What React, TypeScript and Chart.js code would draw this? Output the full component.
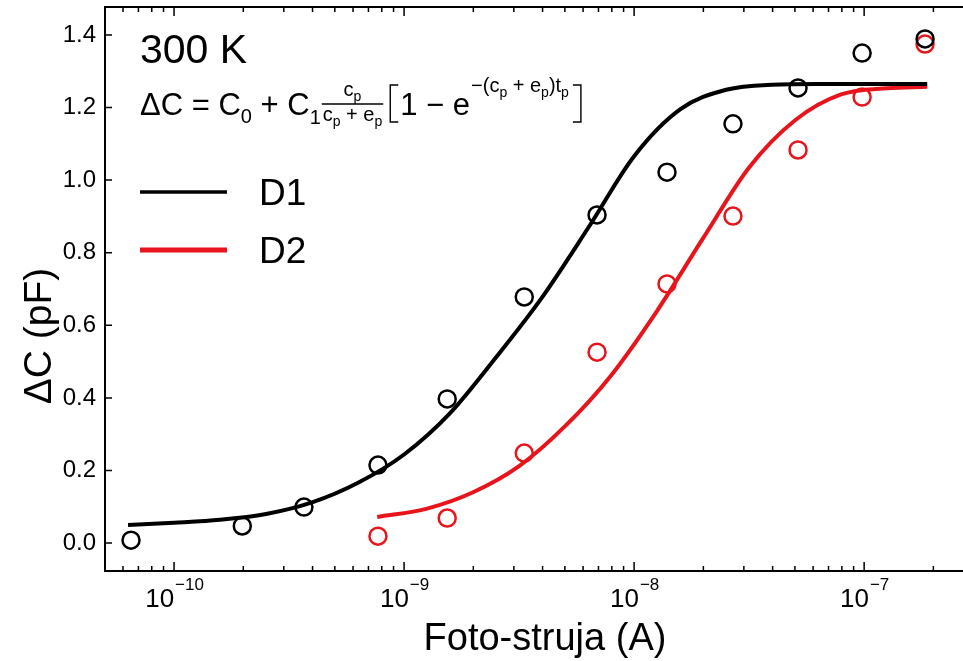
import React, { useEffect, useRef } from 'react';
import { Chart, registerables } from 'chart.js';

Chart.register(...registerables);

// ---- data ----
const d1X = [6.5e-11, 1.98e-10, 3.67e-10, 7.7e-10, 1.54e-9, 3.33e-9, 6.9e-9, 1.39e-8, 2.69e-8, 5.16e-8, 9.8e-8, 1.84e-7];
const d1Y = [0.008, 0.047, 0.099, 0.215, 0.397, 0.678, 0.904, 1.022, 1.155, 1.254, 1.35, 1.389];
const d2X = [7.7e-10, 1.54e-9, 3.33e-9, 6.9e-9, 1.39e-8, 2.69e-8, 5.16e-8, 9.8e-8, 1.84e-7];
const d2Y = [0.019, 0.069, 0.248, 0.526, 0.714, 0.901, 1.083, 1.229, 1.375];

const fit1X = [6.31e-11, 1.0e-10, 1.585e-10, 2.512e-10, 3.981e-10, 6.31e-10, 1.0e-9, 1.585e-9, 2.512e-9, 3.981e-9, 6.31e-9, 1.0e-8, 1.585e-8, 2.512e-8, 3.981e-8, 6.31e-8, 1.88e-7];
const fit1Y = [0.05, 0.056, 0.064, 0.08, 0.112, 0.166, 0.244, 0.358, 0.512, 0.677, 0.868, 1.066, 1.195, 1.249, 1.263, 1.265, 1.265];
const fit2X = [7.64e-10, 1.259e-9, 1.995e-9, 3.162e-9, 5.012e-9, 7.943e-9, 1.259e-8, 1.995e-8, 3.162e-8, 5.012e-8, 7.943e-8, 1.259e-7, 1.88e-7];
const fit2Y = [0.072, 0.095, 0.14, 0.212, 0.322, 0.462, 0.64, 0.84, 1.035, 1.165, 1.236, 1.253, 1.257];

const yTicks = [0, 0.2, 0.4, 0.6, 0.8, 1.0, 1.2, 1.4];
const xMajor = [1e-10, 1e-9, 1e-8, 1e-7];
const xMajorExp = ['\u221210', '\u22129', '\u22128', '\u22127'];
const xMinorMult = [2, 3, 4, 5, 6, 7, 8, 9];

const seriesNames = ['D1', 'D2'];
const tempLabel = '300 K';
const xTitle = 'Foto-struja (A)';
const yTitle = '\u0394C (pF)';

const X_MIN = 5.01e-11;
const X_MAX = 2.69e-7;
const Y_MIN = -0.077;
const Y_MAX = 1.477;

const BLACK = '#000000';
const RED = '#e8141c';
const FONT = "'Liberation Sans', Arial, sans-serif";

const pts = (xs: number[], ys: number[]) => xs.map((x, i) => ({ x, y: ys[i] }));

function buildXTicks() {
  const out: { value: number; major: boolean }[] = [];
  for (const m of [1e-11, ...xMajor]) {
    if (m >= X_MIN && m <= X_MAX) out.push({ value: m, major: true });
    for (const k of xMinorMult) {
      const v = m * k;
      if (v >= X_MIN && v <= X_MAX) out.push({ value: v, major: false });
    }
  }
  return out.sort((a, b) => a.value - b.value);
}

const decorPlugin = {
  id: 'decor',
  afterDraw(chart: any) {
    const ctx = chart.ctx as CanvasRenderingContext2D;
    const { left, right, top, bottom } = chart.chartArea;
    const xs = chart.scales.x;
    const ys = chart.scales.y;
    ctx.save();
    ctx.strokeStyle = BLACK;
    ctx.fillStyle = BLACK;

    // frame lines
    ctx.lineWidth = 2;
    ctx.beginPath();
    ctx.moveTo(left, top);
    ctx.lineTo(right, top);
    ctx.moveTo(left, top - 1);
    ctx.lineTo(left, bottom + 1);
    ctx.moveTo(left - 1, bottom);
    ctx.lineTo(right, bottom);
    ctx.stroke();

    // x ticks (bottom and top, inward)
    ctx.lineWidth = 1.5;
    ctx.beginPath();
    for (const t of xs.ticks) {
      const px = xs.getPixelForValue(t.value);
      if (px < left || px > right) continue;
      const len = t.major ? 9 : 5;
      ctx.moveTo(px, bottom);
      ctx.lineTo(px, bottom - len);
      ctx.moveTo(px, top);
      ctx.lineTo(px, top + len);
    }
    // y ticks inward
    for (const t of ys.ticks) {
      const py = ys.getPixelForValue(t.value);
      ctx.moveTo(left, py);
      ctx.lineTo(left + 7, py);
    }
    ctx.stroke();

    // x tick labels 10^n
    ctx.textBaseline = 'alphabetic';
    xMajor.forEach((v, i) => {
      const px = xs.getPixelForValue(v);
      ctx.font = `26px ${FONT}`;
      const w1 = ctx.measureText('10').width;
      ctx.font = `17px ${FONT}`;
      const w2 = ctx.measureText(xMajorExp[i]).width;
      const x0 = px - (w1 + w2) / 2;
      ctx.font = `26px ${FONT}`;
      ctx.textAlign = 'left';
      ctx.fillText('10', x0, bottom + 36);
      ctx.font = `17px ${FONT}`;
      ctx.fillText(xMajorExp[i], x0 + w1 + 1, bottom + 19);
    });

    // axis titles
    ctx.font = `38px ${FONT}`;
    ctx.textAlign = 'center';
    ctx.textBaseline = 'alphabetic';
    ctx.fillText(xTitle, 545, 650);
    ctx.save();
    ctx.translate(51, 336);
    ctx.rotate(-Math.PI / 2);
    ctx.font = `39px ${FONT}`;
    ctx.fillText(yTitle, 0, 0);
    ctx.restore();

    // 300 K
    ctx.textAlign = 'left';
    ctx.font = `41px ${FONT}`;
    ctx.fillText(tempLabel, 140, 63);

    // formula
    const F = 31, S = 20, SS = 14;
    const base = 115;
    let cx = 140;
    const put = (t: string, size: number, y: number) => {
      ctx.font = `${size}px ${FONT}`;
      ctx.fillText(t, cx, y);
      const w = ctx.measureText(t).width;
      cx += w;
      return w;
    };
    const meas = (t: string, size: number) => {
      ctx.font = `${size}px ${FONT}`;
      return ctx.measureText(t).width;
    };
    put('\u0394C = C', F, base);
    put('0', S, base + 8);
    put(' + C', F, base);
    put('1', S, base + 9);
    cx += 1;
    // fraction
    const denW = meas('c', S) + meas('p', SS) + meas(' + ', S) + meas('e', S) + meas('p', SS);
    const numW = meas('c', S) + meas('p', SS);
    const fx = cx;
    const lineY = 104;
    ctx.lineWidth = 1.3;
    ctx.beginPath();
    ctx.moveTo(fx, lineY);
    ctx.lineTo(fx + denW + 2, lineY);
    ctx.stroke();
    cx = fx + 1 + (denW - numW) / 2;
    put('c', S, lineY - 8);
    put('p', SS, lineY - 3);
    cx = fx + 1;
    put('c', S, lineY + 17);
    put('p', SS, lineY + 22);
    put(' + ', S, lineY + 17);
    put('e', S, lineY + 17);
    put('p', SS, lineY + 22);
    cx = fx + denW + 9;
    // left bracket
    ctx.lineWidth = 1.4;
    ctx.beginPath();
    ctx.moveTo(cx + 8, 85);
    ctx.lineTo(cx, 85);
    ctx.lineTo(cx, 122);
    ctx.lineTo(cx + 8, 122);
    ctx.stroke();
    cx += 10;
    put('1 \u2212 e', F, base);
    cx += 1;
    const sb = 92;
    put('\u2212(c', S, sb);
    put('p', SS, sb + 5);
    put(' + e', S, sb);
    put('p', SS, sb + 5);
    put(')t', S, sb);
    put('p', SS, sb + 5);
    cx += 4;
    ctx.beginPath();
    ctx.moveTo(cx, 85);
    ctx.lineTo(cx + 8, 85);
    ctx.lineTo(cx + 8, 122);
    ctx.lineTo(cx, 122);
    ctx.stroke();

    // legend
    ctx.lineCap = 'butt';
    ctx.lineWidth = 3.5;
    ctx.strokeStyle = BLACK;
    ctx.beginPath();
    ctx.moveTo(140, 192);
    ctx.lineTo(227, 192);
    ctx.stroke();
    ctx.lineWidth = 5;
    ctx.strokeStyle = RED;
    ctx.beginPath();
    ctx.moveTo(140, 250);
    ctx.lineTo(227, 250);
    ctx.stroke();
    ctx.fillStyle = BLACK;
    ctx.font = `37px ${FONT}`;
    ctx.fillText(seriesNames[0], 259, 205);
    ctx.fillText(seriesNames[1], 259, 263);

    ctx.restore();
  },
};

export default function App() {
  const ref = useRef<HTMLCanvasElement | null>(null);

  useEffect(() => {
    if (!ref.current) return;
    const chart = new Chart(ref.current, {
      type: 'scatter',
      data: {
        datasets: [
          {
            label: seriesNames[0] + ' fit',
            data: pts(fit1X, fit1Y),
            showLine: true,
            borderColor: BLACK,
            borderWidth: 4,
            pointRadius: 0,
            cubicInterpolationMode: 'monotone',
          } as any,
          {
            label: seriesNames[0],
            data: pts(d1X, d1Y),
            showLine: false,
            pointRadius: 8.5,
            pointBorderWidth: 2.5,
            pointBorderColor: BLACK,
            pointBackgroundColor: 'rgba(0,0,0,0)',
          },
          {
            label: seriesNames[1] + ' fit',
            data: pts(fit2X, fit2Y),
            showLine: true,
            borderColor: RED,
            borderWidth: 4,
            pointRadius: 0,
            cubicInterpolationMode: 'monotone',
          } as any,
          {
            label: seriesNames[1],
            data: pts(d2X, d2Y),
            showLine: false,
            pointRadius: 8.5,
            pointBorderWidth: 2.5,
            pointBorderColor: RED,
            pointBackgroundColor: 'rgba(0,0,0,0)',
          },
        ],
      },
      options: {
        animation: false,
        responsive: false,
        devicePixelRatio: 1,
        layout: { autoPadding: false, padding: { top: 7, right: 0, left: 0, bottom: 0 } },
        plugins: { legend: { display: false }, tooltip: { enabled: false } },
        scales: {
          x: {
            type: 'logarithmic',
            position: 'bottom',
            min: X_MIN,
            max: X_MAX,
            afterBuildTicks: (s: any) => {
              s.ticks = buildXTicks();
            },
            ticks: { display: false },
            grid: { display: false, drawTicks: false },
            border: { display: false },
            title: { display: false, text: xTitle },
            afterFit: (s: any) => {
              s.height = 90;
              s.paddingLeft = 0;
              s.paddingRight = 0;
            },
          },
          y: {
            type: 'linear',
            min: Y_MIN,
            max: Y_MAX,
            afterBuildTicks: (s: any) => {
              s.ticks = yTicks.map((v) => ({ value: v }));
            },
            ticks: {
              color: BLACK,
              font: { family: FONT, size: 24 },
              padding: 9,
              callback: (v: any) => Number(v).toFixed(1),
            },
            grid: { display: false, drawTicks: false },
            border: { display: false },
            title: { display: false, text: yTitle },
            afterFit: (s: any) => {
              s.width = 105;
              s.paddingTop = 0;
              s.paddingBottom = 0;
            },
          },
        },
      },
      plugins: [decorPlugin],
    });
    return () => chart.destroy();
  }, []);

  return (
    <div style={{ position: 'fixed', left: 0, top: 0, width: 963, height: 661, background: '#fff' }}>
      <canvas ref={ref} width={963} height={661} style={{ display: 'block' }} />
    </div>
  );
}
